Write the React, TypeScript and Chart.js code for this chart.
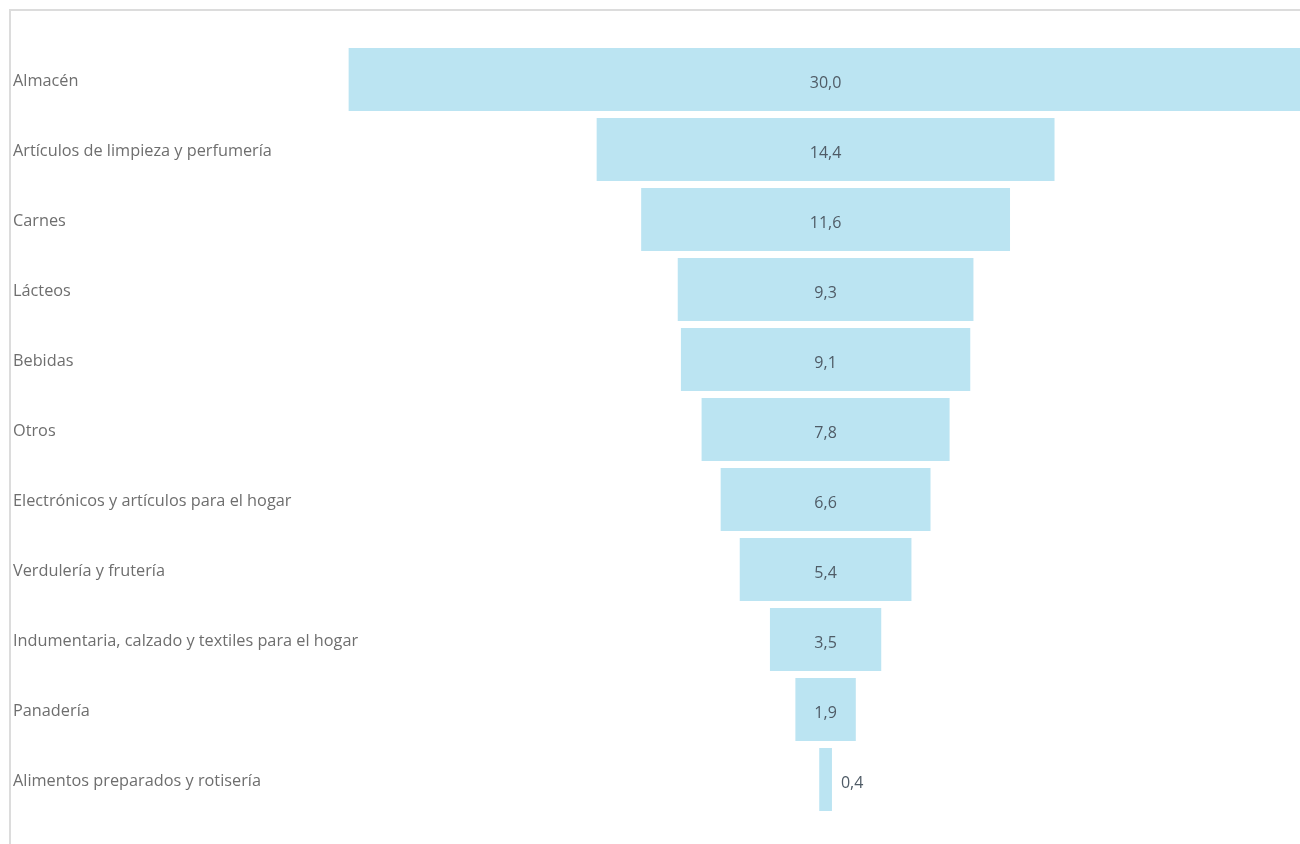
import React, { useEffect, useRef } from "react";
import { Chart, registerables } from "chart.js";

Chart.register(...registerables);

const categories: string[] = [
  "Almacén",
  "Artículos de limpieza y perfumería",
  "Carnes",
  "Lácteos",
  "Bebidas",
  "Otros",
  "Electrónicos y artículos para el hogar",
  "Verdulería y frutería",
  "Indumentaria, calzado y textiles para el hogar",
  "Panadería",
  "Alimentos preparados y rotisería",
];

const values: number[] = [30.0, 14.4, 11.6, 9.3, 9.1, 7.8, 6.6, 5.4, 3.5, 1.9, 0.4];

const FONT = "'Open Sans', 'Noto Sans', sans-serif";

const fmt = (v: number) => v.toFixed(1).replace(".", ",");

const framePlugin = {
  id: "frame",
  beforeDraw(chart: any) {
    const ctx = chart.ctx;
    ctx.save();
    ctx.strokeStyle = "#dcdcdc";
    ctx.lineWidth = 2;
    ctx.beginPath();
    ctx.moveTo(1300, 10);
    ctx.lineTo(10, 10);
    ctx.lineTo(10, 844);
    ctx.stroke();
    ctx.restore();
  },
};

const labelPlugin = {
  id: "funnelLabels",
  afterDatasetsDraw(chart: any) {
    const ctx = chart.ctx;
    const yScale = chart.scales.y;
    const xScale = chart.scales.x;
    ctx.save();
    ctx.textBaseline = "middle";
    categories.forEach((c, i) => {
      const y = yScale.getPixelForValue(i);
      ctx.font = `16.3px ${FONT}`;
      ctx.fillStyle = "#6e6e6e";
      ctx.textAlign = "left";
      ctx.fillText(c, 13, y + 1.5);
      const v = values[i];
      const txt = fmt(v);
      ctx.font = `16px ${FONT}`;
      const left = xScale.getPixelForValue(-v / 2);
      const right = xScale.getPixelForValue(v / 2);
      const center = xScale.getPixelForValue(0);
      const tw = ctx.measureText(txt).width;
      ctx.fillStyle = "#4f5b66";
      if (right - left > tw + 8) {
        ctx.textAlign = "center";
        ctx.fillText(txt, center, y + 4);
      } else {
        ctx.textAlign = "left";
        ctx.fillText(txt, right + 9, y + 4);
      }
    });
    ctx.restore();
  },
};

export default function App() {
  const ref = useRef<HTMLCanvasElement | null>(null);
  useEffect(() => {
    if (!ref.current) return;
    const chart = new Chart(ref.current, {
      type: "bar",
      data: {
        labels: categories,
        datasets: [
          {
            data: values.map((v) => [-v / 2, v / 2]) as any,
            backgroundColor: "#bbe4f2",
            borderWidth: 0,
            barPercentage: 0.9,
            categoryPercentage: 1,
          },
        ],
      },
      options: {
        indexAxis: "y",
        animation: false,
        responsive: false,
        maintainAspectRatio: false,
        layout: { padding: { left: 10, right: 0, top: 44.5, bottom: 29.5 } },
        plugins: {
          legend: { display: false },
          tooltip: { enabled: false },
        },
        scales: {
          x: { display: false, min: -25.65, max: 14.92 },
          y: { display: false },
        },
      },
      plugins: [framePlugin, labelPlugin],
    });
    return () => chart.destroy();
  }, []);
  return (
    <div style={{ position: "fixed", left: 0, top: 0, width: 1300, height: 844, background: "#fff" }}>
      <canvas ref={ref} width={1300} height={844} style={{ width: 1300, height: 844, display: "block" }} />
    </div>
  );
}
